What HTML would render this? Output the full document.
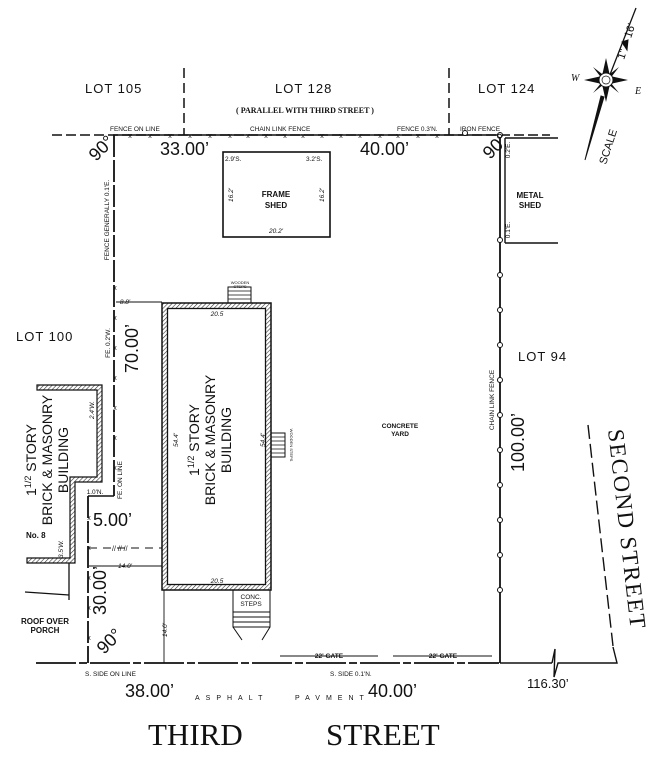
<!DOCTYPE html>
<html><head><meta charset="utf-8"><style>
html,body{margin:0;padding:0;background:#fff;}
svg{display:block;}
text{font-family:"Liberation Sans",sans-serif;fill:#111;}
.serif{font-family:"Liberation Serif",serif;}
</style></head><body>
<svg width="650" height="764" viewBox="0 0 650 764" xmlns="http://www.w3.org/2000/svg">
<defs>
<pattern id="h" width="3" height="3" patternUnits="userSpaceOnUse" patternTransform="rotate(45)">
<rect width="3" height="3" fill="#fff"/><line x1="0" y1="0" x2="0" y2="3" stroke="#333" stroke-width="1.2"/>
</pattern>
</defs>
<g stroke="#111" fill="none">
<line x1="52" y1="135" x2="550" y2="135" stroke-width="1.6" stroke-dasharray="10,4"/>
<line x1="113" y1="135" x2="499" y2="135" stroke-width="1.6"/>
<line x1="184" y1="68" x2="184" y2="135" stroke-width="1.5" stroke-dasharray="10,5"/>
<line x1="449" y1="68" x2="449" y2="135" stroke-width="1.5" stroke-dasharray="10,5"/>
<line x1="114" y1="135" x2="114" y2="496" stroke-width="1.8" stroke-dasharray="22,3"/>
<line x1="88" y1="496" x2="114" y2="496" stroke-width="1.4"/>
<line x1="88" y1="496" x2="88" y2="663" stroke-width="1.8" stroke-dasharray="22,3"/>
<line x1="36" y1="663" x2="499" y2="663" stroke-width="1.8" stroke-dasharray="40,3,8,3"/>
<line x1="500" y1="135" x2="500" y2="663" stroke-width="1.8"/>
<line x1="500" y1="663" x2="552" y2="663" stroke-width="1.6"/>
<path d="M552 663 L555 649 L554 677 L558 663 L617 663 L613 647" stroke-width="1.4"/>
<line x1="588" y1="425" x2="613" y2="646" stroke-width="1.4" stroke-dasharray="14,5"/>
<path d="M505 138 L558 138 M505 138 L505 243 M505 243 L558 243" stroke-width="1.4"/>
<rect x="223" y="152" width="107" height="85" stroke-width="1.6"/>
<rect x="162" y="303" width="109" height="287" fill="url(#h)" stroke-width="1.5"/>
<rect x="167.5" y="308.5" width="98" height="276" fill="#fff" stroke-width="1.3"/>
<rect x="228" y="287" width="23" height="16" stroke-width="1"/>
<path d="M228 291H251M228 295H251M228 299H251" stroke-width="0.8"/>
<rect x="271" y="433" width="14" height="24" stroke-width="1"/>
<path d="M271 437H285M271 441H285M271 445H285M271 449H285M271 453H285" stroke-width="0.8"/>
<path d="M233 590V627H270V590M233 612H270M233 617H270M233 622H270M233 627L242 640M270 627L262 640" stroke-width="1"/>
<path d="M37 385H102V482H75V563H27V558H70V477H97V390H37Z" fill="url(#h)" stroke-width="1.2"/>
<path d="M69 563V600 M25 592L69 595" stroke-width="1.3"/>
<path d="M116 302H162" stroke-width="0.9"/>
<path d="M89 566H162" stroke-width="0.9"/>
<path d="M89 548H162" stroke-width="0.9" stroke-dasharray="8,6"/>
<path d="M164 590V663" stroke-width="0.9"/>
<path d="M280 656H378M393 656H492" stroke-width="1"/>
<path d="M585 160 L601 96 L604 97 Z" fill="#111" stroke-width="1"/>
<line x1="604" y1="90" x2="636" y2="8" stroke-width="1.3"/>
<path d="M622 42 L627 50 L628 40 Z" fill="#111"/>
</g>
<g fill="#fff" stroke="#111" stroke-width="1">
<circle cx="500" cy="135" r="2.5"/><circle cx="465" cy="133" r="2.5"/>
<circle cx="500" cy="240" r="2.5"/><circle cx="500" cy="275" r="2.5"/><circle cx="500" cy="310" r="2.5"/>
<circle cx="500" cy="345" r="2.5"/><circle cx="500" cy="380" r="2.5"/><circle cx="500" cy="415" r="2.5"/>
<circle cx="500" cy="450" r="2.5"/><circle cx="500" cy="485" r="2.5"/><circle cx="500" cy="520" r="2.5"/>
<circle cx="500" cy="555" r="2.5"/><circle cx="500" cy="590" r="2.5"/>
</g>
<g transform="translate(606,80)">
<polygon points="0,-22 4,-4 22,0 4,4 0,22 -4,4 -22,0 -4,-4" fill="#111"/>
<polygon points="13,-13 3,0 -13,13 0,-3" fill="#111"/>
<polygon points="-13,-13 0,-3 13,13 -3,0" fill="#111"/>
<circle r="7" fill="#fff" stroke="#111"/><circle r="4" fill="none" stroke="#111" stroke-width="0.7"/>
</g>
<text x="571" y="81" font-size="10" class="serif" font-style="italic">W</text>
<text x="635" y="94" font-size="10" class="serif" font-style="italic">E</text>
<text transform="translate(624,60) rotate(-72)" font-size="11">1" = 16'</text>
<text transform="translate(606,165) rotate(-72)" font-size="11">SCALE</text>
<g font-size="7" text-anchor="middle">
<text x="130" y="138">x</text><text x="150" y="138">x</text><text x="170" y="138">x</text><text x="190" y="138">x</text><text x="210" y="138">x</text><text x="230" y="138">x</text><text x="248" y="138">x</text><text x="266" y="138">x</text><text x="285" y="138">x</text><text x="303" y="138">x</text><text x="322" y="138">x</text><text x="341" y="138">x</text><text x="360" y="138">x</text><text x="380" y="138">x</text><text x="398" y="138">x</text><text x="418" y="138">x</text><text x="437" y="138">x</text>
<text x="115" y="290">x</text><text x="115" y="320">x</text><text x="115" y="350">x</text><text x="115" y="380">x</text><text x="115" y="410">x</text><text x="115" y="440">x</text><text x="115" y="470">x</text>
<text x="89" y="520">x</text><text x="89" y="550">x</text><text x="89" y="580">x</text><text x="89" y="610">x</text><text x="89" y="640">x</text>
</g>
<g font-size="13">
<text x="85" y="93" letter-spacing="1">LOT  105</text>
<text x="275" y="93" letter-spacing="1">LOT  128</text>
<text x="478" y="93" letter-spacing="1">LOT  124</text>
<text x="16" y="341" letter-spacing="1">LOT  100</text>
<text x="518" y="361" letter-spacing="1">LOT  94</text>
</g>
<text x="305" y="113" font-size="8" class="serif" font-weight="bold" text-anchor="middle">( PARALLEL WITH THIRD STREET )</text>
<g font-size="6.5">
<text x="110" y="131">FENCE ON LINE</text>
<text x="250" y="131">CHAIN LINK FENCE</text>
<text x="397" y="131">FENCE 0.3'N.</text>
<text x="460" y="131">IRON FENCE</text>
<text x="85" y="676">S. SIDE ON LINE</text>
<text x="330" y="676">S. SIDE 0.1'N.</text>
<text x="225" y="161">2.9'S.</text>
<text x="306" y="161">3.2'S.</text>
</g>
<g font-size="18">
<text x="160" y="155">33.00’</text>
<text x="360" y="155">40.00’</text>
<text x="125" y="697">38.00’</text>
<text x="368" y="697">40.00’</text>
<text x="93" y="526">5.00’</text>
<text transform="translate(138,373) rotate(-90)">70.00’</text>
<text transform="translate(524,472) rotate(-90)">100.00’</text>
<text transform="translate(106,615) rotate(-90)">30.00’</text>
<text transform="translate(96,162) rotate(-45)">90°</text>
<text transform="translate(490,160) rotate(-45)">90°</text>
<text transform="translate(104,655) rotate(-45)">90°</text>
</g>
<text x="527" y="688" font-size="13">116.30’</text>
<text x="195" y="700" font-size="7" letter-spacing="6">ASPHALT</text>
<text x="295" y="700" font-size="7" letter-spacing="6">PAVMENT</text>
<text x="148" y="745" font-size="31" class="serif">THIRD</text>
<text x="326" y="745" font-size="31" class="serif">STREET</text>
<text transform="translate(608,430) rotate(83.5)" font-size="23" class="serif" letter-spacing="1.5">SECOND  STREET</text>
<g font-size="8" class="serif" font-weight="bold" text-anchor="middle">
<text x="276" y="197">FRAME</text><text x="276" y="208">SHED</text>
<text x="530" y="198">METAL</text><text x="530" y="208">SHED</text>
<text x="45" y="624">ROOF OVER</text><text x="45" y="633">PORCH</text>
</g>
<text x="400" y="428" font-size="6.5" font-weight="bold" text-anchor="middle">CONCRETE</text>
<text x="400" y="436" font-size="6.5" font-weight="bold" text-anchor="middle">YARD</text>
<text x="26" y="538" font-size="8" font-weight="bold">No. 8</text>
<g font-size="6.5" font-style="italic" text-anchor="middle">
<text x="276" y="233">20.2'</text>
<text transform="translate(233,195) rotate(-90)">16.2'</text>
<text transform="translate(324,195) rotate(-90)">16.2'</text>
<text x="217" y="316">20.5</text>
<text x="217" y="583">20.5</text>
<text transform="translate(178,440) rotate(-90)">54.4'</text>
<text transform="translate(265,440) rotate(-90)">54.4'</text>
<text x="125" y="304">8.8'</text>
<text x="125" y="568">14.0'</text>
<text transform="translate(167,630) rotate(-90)">14.0'</text>
<text transform="translate(94,410) rotate(-90)">2.4'W.</text>
<text transform="translate(63,549) rotate(-90)">3.5'W.</text>
</g>
<g font-size="6.5" text-anchor="middle">
<text transform="translate(109,220) rotate(-90)">FENCE GENERALLY 0.1'E.</text>
<text transform="translate(110,343) rotate(-90)">FE. 0.2'W.</text>
<text transform="translate(122,480) rotate(-90)">FE. ON LINE</text>
<text transform="translate(494,400) rotate(-90)">CHAIN LINK FENCE</text>
<text transform="translate(510,150) rotate(-90)">0.2'E.</text>
<text transform="translate(510,230) rotate(-90)">0.1'E.</text>
<text x="95" y="494">1.0'N.</text>
<text x="240" y="284" font-size="4">WOODEN</text><text x="240" y="288" font-size="4">STEPS</text>
<text transform="translate(290,445) rotate(90)" font-size="4">WOODEN STEPS</text>
<text x="251" y="599">CONC.</text><text x="251" y="606">STEPS</text>
<text x="329" y="658" font-weight="bold">22' GATE</text>
<text x="443" y="658" font-weight="bold">22' GATE</text>
</g>
<text x="112" y="551" font-size="7">//      //      //</text>
<g font-size="14" text-anchor="middle">
<text transform="translate(213,440) rotate(-90)"><tspan x="0" y="-14">1<tspan font-size="9" dy="-5">1/2</tspan><tspan dy="5"> STORY</tspan></tspan><tspan x="0" y="2">BRICK &amp; MASONRY</tspan><tspan x="0" y="18">BUILDING</tspan></text>
<text transform="translate(50,460) rotate(-90)"><tspan x="0" y="-14">1<tspan font-size="9" dy="-5">1/2</tspan><tspan dy="5"> STORY</tspan></tspan><tspan x="0" y="2">BRICK &amp; MASONRY</tspan><tspan x="0" y="18">BUILDING</tspan></text>
</g>
</svg>
</body></html>
